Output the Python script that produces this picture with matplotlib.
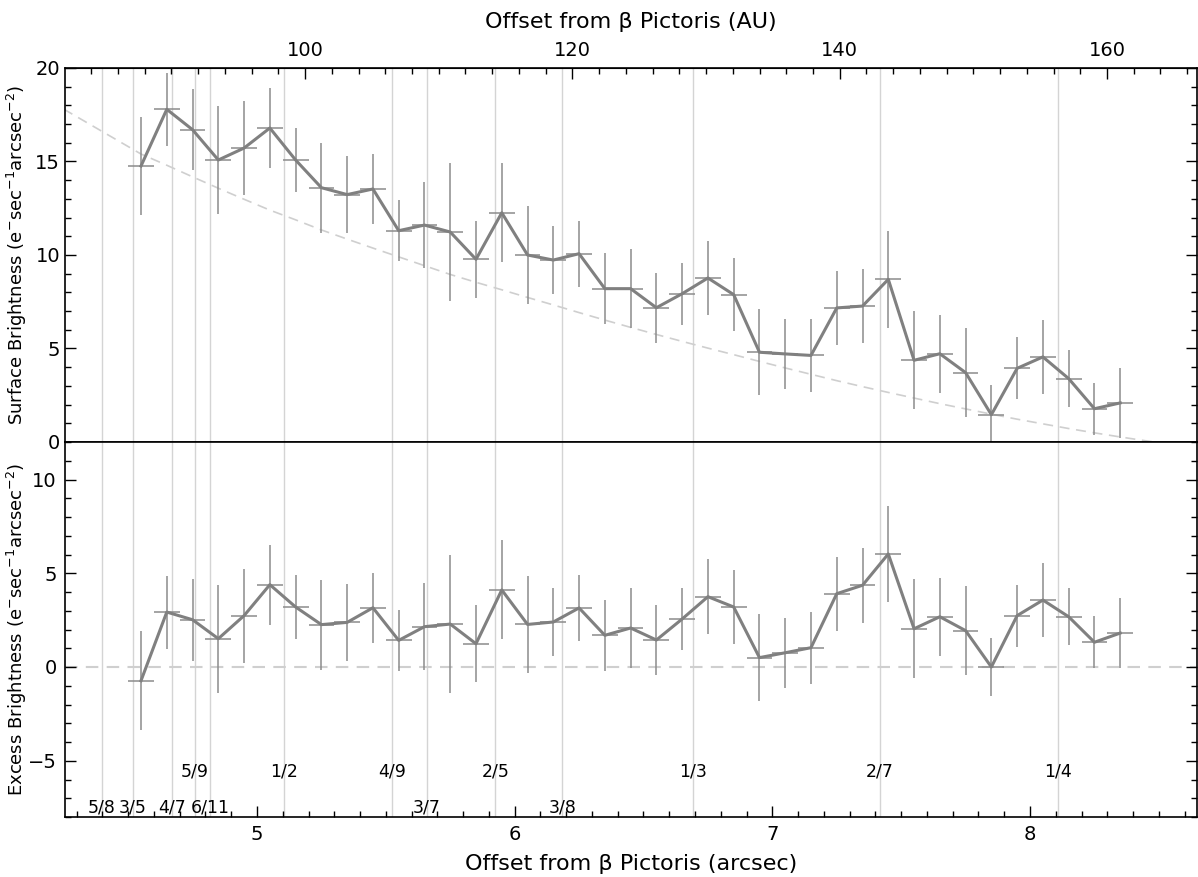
import matplotlib
matplotlib.use('Agg')
import matplotlib.pyplot as plt
from matplotlib.ticker import MultipleLocator, FixedLocator

plt.rcParams['font.family'] = ['DejaVu Sans']
plt.rcParams['mathtext.default'] = 'regular'

# bin centres (arcsec)
offset = [4.55, 4.65, 4.75, 4.85, 4.95, 5.05, 5.15, 5.25, 5.35, 5.45,
          5.55, 5.65, 5.75, 5.85, 5.95, 6.05, 6.15, 6.25, 6.35, 6.45,
          6.55, 6.65, 6.75, 6.85, 6.95, 7.05, 7.15, 7.25, 7.35, 7.45,
          7.55, 7.65, 7.75, 7.85, 7.95, 8.05, 8.15, 8.25, 8.35]

surface = [14.76, 17.79, 16.70, 15.08, 15.72, 16.79, 15.08, 13.60, 13.23, 13.53,
           11.30, 11.60, 11.23, 9.77, 12.26, 10.00, 9.73, 10.07, 8.20, 8.20,
           7.18, 7.93, 8.77, 7.88, 4.80, 4.71, 4.63, 7.17, 7.27, 8.70,
           4.37, 4.72, 3.71, 1.46, 3.94, 4.55, 3.39, 1.78, 2.09]

excess = [-0.73, 2.93, 2.52, 1.51, 2.74, 4.39, 3.20, 2.26, 2.38, 3.16,
          1.42, 2.15, 2.29, 1.24, 4.11, 2.27, 2.40, 3.15, 1.69, 2.08,
          1.44, 2.56, 3.75, 3.20, 0.50, 0.76, 1.03, 3.91, 4.36, 6.03,
          2.04, 2.68, 1.94, 0.00, 2.74, 3.57, 2.68, 1.32, 1.81]

err = [2.64, 1.95, 2.18, 2.89, 2.50, 2.13, 1.73, 2.40, 2.06, 1.87,
       1.62, 2.31, 3.70, 2.05, 2.64, 2.61, 1.82, 1.77, 1.89, 2.13,
       1.86, 1.65, 1.99, 1.97, 2.31, 1.87, 1.93, 1.97, 2.00, 2.58,
       2.63, 2.09, 2.36, 1.57, 1.66, 1.96, 1.51, 1.38, 1.88]

# smooth disk model (dashed curve in top panel)
model_x = [4.25, 4.55, 4.65, 4.75, 4.85, 4.95, 5.05, 5.15, 5.25, 5.35, 5.45,
           5.55, 5.65, 5.75, 5.85, 5.95, 6.05, 6.15, 6.25, 6.35, 6.45,
           6.55, 6.65, 6.75, 6.85, 6.95, 7.05, 7.15, 7.25, 7.35, 7.45,
           7.55, 7.65, 7.75, 7.85, 7.95, 8.05, 8.15, 8.25, 8.35, 8.48]
model_y = [17.80, 15.40, 14.80, 14.18, 13.57, 12.98, 12.40, 11.88, 11.34, 10.85, 10.37,
           9.90, 9.43, 8.96, 8.54, 8.14, 7.73, 7.33, 6.92, 6.52, 6.13,
           5.75, 5.38, 5.02, 4.67, 4.31, 3.96, 3.62, 3.28, 2.96, 2.65,
           2.35, 2.05, 1.77, 1.49, 1.22, 0.97, 0.72, 0.49, 0.27, 0.0]

# mean-motion resonance locations (arcsec)
res_pos = [4.398, 4.518, 4.670, 4.758, 4.817, 5.105, 5.523, 5.658,
           5.925, 6.185, 6.693, 7.418, 8.110]
res_labels = ['5/8', '3/5', '4/7', '5/9', '6/11', '1/2', '4/9', '3/7',
              '2/5', '3/8', '1/3', '2/7', '1/4']
res_row = [1, 1, 1, 0, 1, 0, 0, 1, 0, 1, 0, 0, 0]

au_ticks = [100, 120, 140, 160]
AU_PER_ARCSEC = 19.28

W, H = 1198, 877
fig = plt.figure(figsize=(W / 100, H / 100), dpi=100)
x0, x1 = 65, 1197
ax1 = fig.add_axes([x0 / W, 1 - 442 / H, (x1 - x0) / W, (442 - 68) / H])
ax2 = fig.add_axes([x0 / W, 1 - 817 / H, (x1 - x0) / W, (817 - 442) / H], sharex=ax1)

line_c = '#808080'
err_c = '#8c8c8c'
grid_c = '#d4d4d4'

for ax in (ax1, ax2):
    for xr in res_pos:
        ax.axvline(xr, color=grid_c, lw=1.0, zorder=0)
    for s in ax.spines.values():
        s.set_linewidth(1.2)

# top panel
ax1.plot(model_x, model_y, color='#cfcfcf', lw=1.2, ls=(0, (6, 4)), zorder=1)
ax1.errorbar(offset, surface, yerr=err, xerr=0.05, fmt='none', ecolor=err_c,
             elinewidth=1.1, capsize=0, zorder=2)
ax1.plot(offset, surface, color=line_c, lw=2.2, zorder=3)
ax1.set_ylim(0, 20)
ax1.yaxis.set_major_locator(MultipleLocator(5))
ax1.yaxis.set_minor_locator(MultipleLocator(1))
ax1.set_ylabel(r'Surface Brightness (e$^{-}$sec$^{-1}$arcsec$^{-2}$)', fontsize=13)
ax1.tick_params(which='both', direction='in', bottom=False, labelbottom=False,
                right=True, top=False, labelsize=14)
ax1.tick_params(which='major', length=8, width=1)
ax1.tick_params(which='minor', length=4, width=1)

# bottom panel
ax2.axhline(0, color='#cfcfcf', lw=1.5, ls=(0, (6, 4)), zorder=1)
ax2.errorbar(offset, excess, yerr=err, xerr=0.05, fmt='none', ecolor=err_c,
             elinewidth=1.1, capsize=0, zorder=2)
ax2.plot(offset, excess, color=line_c, lw=2.2, zorder=3)
ax2.set_ylim(-8, 12)
ax2.set_yticks([-5, 0, 5, 10])
ax2.yaxis.set_minor_locator(MultipleLocator(1))
ax2.set_xlim(4.255, 8.648)
ax2.xaxis.set_major_locator(MultipleLocator(1))
ax2.xaxis.set_minor_locator(MultipleLocator(0.1))
ax2.set_ylabel(r'Excess Brightness (e$^{-}$sec$^{-1}$arcsec$^{-2}$)', fontsize=13)
ax2.set_xlabel('Offset from β Pictoris (arcsec)', fontsize=16, labelpad=7)
ax2.tick_params(which='both', direction='in', top=False, right=True, labelsize=14)
ax2.tick_params(which='major', length=8, width=1, pad=6)
ax2.tick_params(which='minor', length=4, width=1)

for xr, lab, row in zip(res_pos, res_labels, res_row):
    ax2.text(xr, -5.55 if row == 0 else -7.52, lab, ha='center', va='center',
             fontsize=12.5, zorder=4)

for ax in (ax1, ax2):
    ax.yaxis.set_label_coords(-0.032, 0.5)

# top axis in AU
sec = ax1.secondary_xaxis('top', functions=(lambda a: a * AU_PER_ARCSEC,
                                            lambda au: au / AU_PER_ARCSEC))
sec.xaxis.set_major_locator(FixedLocator(au_ticks))
sec.xaxis.set_minor_locator(MultipleLocator(2))
sec.tick_params(which='both', direction='in', labelsize=14)
sec.tick_params(which='major', length=8, width=1, pad=6)
sec.tick_params(which='minor', length=4, width=1)
sec.set_xlabel('Offset from β Pictoris (AU)', fontsize=16, labelpad=9)

fig.savefig('out.png', dpi=100)
